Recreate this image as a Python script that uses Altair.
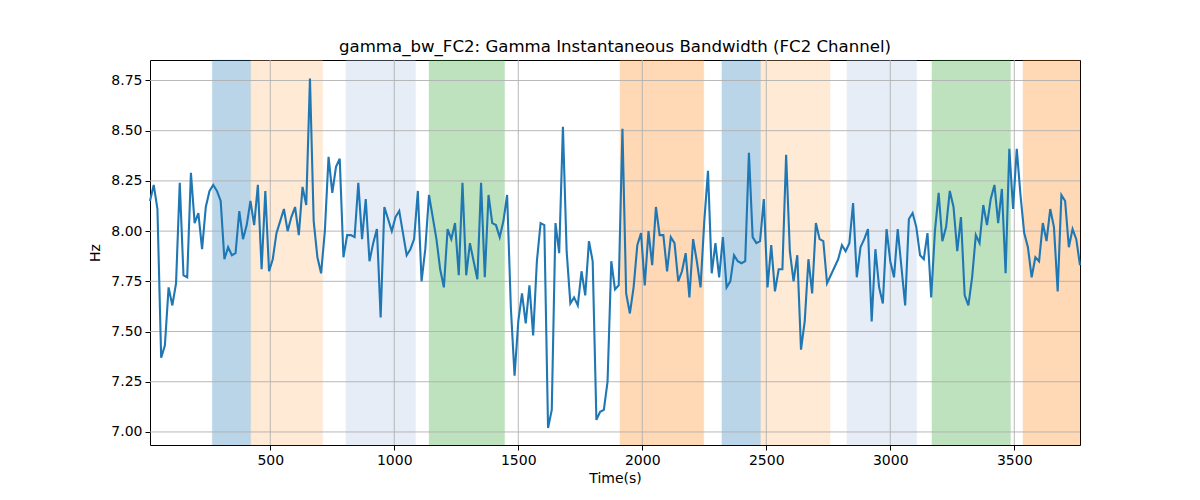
import altair as alt
import pandas as pd

# ---- data ----
values = [
    8.15, 8.23, 8.11, 7.37, 7.43, 7.72, 7.63, 7.74, 8.24, 7.78, 7.77, 8.29, 8.04, 8.09, 7.91, 8.12, 8.20, 8.23, 8.20, 8.15,
    7.86, 7.92, 7.88, 7.89, 8.10, 7.96, 8.03, 8.15, 8.03, 8.23, 7.81, 8.20, 7.80, 7.86, 7.99, 8.05, 8.11, 8.00, 8.07, 8.12,
    7.98, 8.22, 8.13, 8.76,
    8.05, 7.87, 7.79, 8.00, 8.37, 8.19, 8.32, 8.36, 7.87, 7.98, 7.98, 7.97, 8.24, 7.96, 8.16, 7.85, 7.94, 8.01, 7.57, 8.12,
    8.06, 8.00, 8.07, 8.10, 7.99, 7.88, 7.91, 7.96, 8.20, 7.75, 7.91, 8.18, 8.07, 7.96, 7.81, 7.72, 8.01, 7.96, 8.04, 7.78,
    8.24,
    7.78, 7.94, 7.85, 7.76, 8.24, 7.77, 8.18, 8.04, 8.03, 7.97, 8.05, 8.18, 7.62, 7.28, 7.55, 7.69, 7.54, 7.73, 7.48, 7.85,
    8.04, 8.03, 7.02, 7.11, 8.04, 7.89, 8.52, 7.90, 7.64, 7.67, 7.63, 7.80, 7.68, 7.95, 7.85, 7.06, 7.10, 7.11, 7.25, 7.85,
    7.71, 7.73,
    8.51, 7.69, 7.59, 7.72, 7.93, 7.99, 7.73, 8.00, 7.83, 8.12, 7.98, 7.98, 7.80, 7.97, 7.94, 7.75, 7.80, 7.89, 7.67, 7.96,
    7.85, 7.72, 8.05, 8.30, 7.79, 7.94, 7.77, 7.97, 7.72, 7.75, 7.88, 7.85, 7.84, 7.85, 8.39, 7.97, 7.94, 7.95, 8.16, 7.72,
    7.93, 7.70,
    7.81, 7.81, 8.38, 7.90, 7.75, 7.88, 7.41, 7.55, 7.86, 7.69, 8.04, 7.96, 7.95, 7.74, 7.78, 7.82, 7.86, 7.93, 7.90, 7.94,
    8.14, 7.77, 7.92, 7.96, 8.01, 7.55, 7.91, 7.72, 7.64, 8.01, 7.85, 7.77, 8.01, 7.82, 7.63, 8.06, 8.09, 8.02, 7.88, 7.86,
    7.99,
    7.67, 8.00, 8.19, 7.95, 8.02, 8.20, 8.12, 7.90, 8.07, 7.68, 7.63, 7.77, 7.98, 7.94, 8.13, 8.03, 8.16, 8.23, 8.04, 8.21,
    7.79, 8.41, 8.11, 8.41, 8.18, 7.99, 7.92, 7.77, 7.87, 7.85, 8.04, 7.95, 8.11, 8.02, 7.70, 8.18, 8.15, 7.92, 8.01, 7.96,
    7.83,
]
t_start = 15
t_step = 15
times = [t_start + t_step * i for i in range(len(values))]

band_start = [266, 421, 805, 1140, 1910, 2321, 2477, 2825, 3168, 3535]
band_end = [421, 711, 1086, 1445, 2248, 2477, 2757, 3106, 3485, 3765]
band_color = ["#1f77b4", "#ffbb78", "#aec7e8", "#2ca02c", "#ff7f0e",
              "#1f77b4", "#ffbb78", "#aec7e8", "#2ca02c", "#ff7f0e"]

x_ticks = [500, 1000, 1500, 2000, 2500, 3000, 3500]
y_ticks = [7.00, 7.25, 7.50, 7.75, 8.00, 8.25, 8.50, 8.75]
x_domain = [15, 3765]
y_domain = [6.935, 8.852]

title = "gamma_bw_FC2: Gamma Instantaneous Bandwidth (FC2 Channel)"

# ---- tables ----
line_df = pd.DataFrame({"t": times, "v": values})
band_df = pd.DataFrame({"t": band_start, "e": band_end, "c": band_color})
xg_df = pd.DataFrame({"t": x_ticks})
yg_df = pd.DataFrame({"v": y_ticks})

FONT = "DejaVu Sans"
xs = alt.Scale(domain=x_domain, nice=False, zero=False)
ys = alt.Scale(domain=y_domain, nice=False, zero=False)

x_axis = alt.Axis(values=x_ticks, format="d", grid=False, domain=False, tickColor="black",
                  tickSize=5, tickWidth=1, labelColor="black", labelFont=FONT,
                  labelFontSize=14, labelPadding=3, titleFont=FONT, titleFontSize=14,
                  titleFontWeight="normal", titleColor="black", titlePadding=4,
                  labelFlush=False)
y_axis = alt.Axis(values=y_ticks, format=".2f", grid=False, domain=False,
                  tickColor="black", tickSize=5, tickWidth=1, labelColor="black",
                  labelFont=FONT, labelFontSize=14, labelPadding=3, titleFont=FONT,
                  titleFontSize=14, titleFontWeight="normal", titleColor="black",
                  titlePadding=8, labelFlush=False)

X = lambda f: alt.X(f, scale=xs, title="Time(s)", axis=x_axis)
Y = lambda f: alt.Y(f, scale=ys, title="Hz", axis=y_axis)

bands = alt.Chart(band_df).mark_rect(opacity=0.3, strokeWidth=1, strokeOpacity=0.35).encode(
    x=X("t:Q"),
    x2="e:Q",
    fill=alt.Fill("c:N", scale=None),
    stroke=alt.Stroke("c:N", scale=None),
)

xgrid = alt.Chart(xg_df).mark_rule(color="#b0b0b0", strokeWidth=0.9).encode(x=X("t:Q"))
ygrid = alt.Chart(yg_df).mark_rule(color="#b0b0b0", strokeWidth=0.9).encode(y=Y("v:Q"))

line = alt.Chart(line_df).mark_line(color="#1f77b4", strokeWidth=2.1).encode(
    x=X("t:Q"),
    y=Y("v:Q"),
)

chart = alt.layer(bands, xgrid, ygrid, line).properties(
    width=930,
    height=385,
    title=alt.TitleParams(title, font=FONT, fontSize=16.6, fontWeight="normal",
                          color="black", offset=4),
    autosize=alt.AutoSizeParams(type="none"),
    padding={"left": 142, "top": 52, "right": 112, "bottom": 47},
).configure_view(stroke="black", strokeWidth=1)

chart.save("out.html", embed_options={"renderer": "svg", "actions": False})
